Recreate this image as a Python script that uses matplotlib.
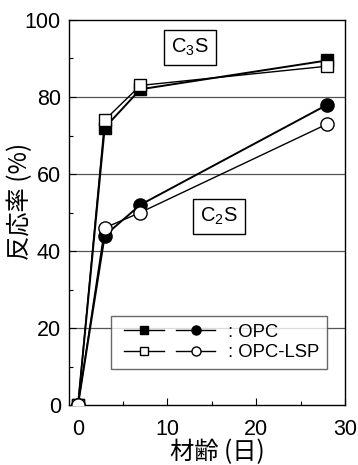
import matplotlib
matplotlib.use('Agg')
import matplotlib.pyplot as plt
from matplotlib.legend_handler import HandlerTuple
from matplotlib.ticker import MultipleLocator

# データ（材齢と反応率）
days = [0, 3, 7, 28]
c3s_opc = [0, 72, 82, 89.5]
c3s_lsp = [0, 74, 83, 88]
c2s_opc = [0, 44, 52, 78]
c2s_lsp = [0, 46, 50, 73]

x_ticks = [0, 10, 20, 30]
y_ticks = [0, 20, 40, 60, 80, 100]

plt.rcParams['font.family'] = ['Liberation Sans', 'Noto Sans CJK JP', 'DejaVu Sans']
plt.rcParams['mathtext.fontset'] = 'custom'
plt.rcParams['mathtext.rm'] = 'Liberation Sans'


class ShiftedTuple(HandlerTuple):
    # 凡例のハンドルを少し右にずらす
    def create_artists(self, legend, orig_handle, xdescent, ydescent,
                       width, height, fontsize, trans):
        shift = 0.32 * fontsize
        return super().create_artists(legend, orig_handle, xdescent - shift,
                                      ydescent, width - shift, height,
                                      fontsize, trans)


fig = plt.figure(figsize=(3.58, 4.65), dpi=100)
ax = fig.add_axes([0.193, 0.129, 0.771, 0.828])

for v in [20, 40, 60, 80]:
    ax.axhline(v, color='#555555', lw=0.9, zorder=1)

ms_sq = 8.5
ms_ci = 9.5
l1, = ax.plot(days, c3s_opc, '-s', color='black', mfc='black', mec='black',
              ms=ms_sq, lw=1.4, zorder=3)
l2, = ax.plot(days, c3s_lsp, '-s', color='black', mfc='white', mec='black',
              ms=ms_sq, lw=1.0, zorder=4)
l3, = ax.plot(days, c2s_opc, '-o', color='black', mfc='black', mec='black',
              ms=ms_ci, lw=1.4, zorder=3)
l4, = ax.plot(days, c2s_lsp, '-o', color='black', mfc='white', mec='black',
              ms=ms_ci, lw=1.0, zorder=4)

ax.set_xlim(-1, 30)
ax.set_ylim(0, 100)
ax.set_xticks(x_ticks)
ax.set_yticks(y_ticks)
ax.xaxis.set_minor_locator(MultipleLocator(5))
ax.yaxis.set_minor_locator(MultipleLocator(10))
ax.tick_params(which='both', direction='in', labelsize=15.5, width=0.8)
ax.tick_params(which='major', length=5)
ax.tick_params(which='minor', length=3)
ax.tick_params(axis='x', pad=10)
ax.tick_params(axis='y', pad=6)
for s in ax.spines.values():
    s.set_linewidth(1.0)

ax.set_xlabel('材齢 (日)', fontsize=17.5, family=['Noto Sans CJK JP'])
ax.set_ylabel('反応率 (%)', fontsize=17.5, family=['Noto Sans CJK JP'])
ax.xaxis.set_label_coords(0.536, -0.088)
ax.yaxis.set_label_coords(-0.13, 0.53)

box = dict(boxstyle='square,pad=0.35', fc='white', ec='black', lw=1.0)
ax.text(12.6, 92.9, 'C$_3$S', fontsize=14.5, ha='center', va='center', bbox=box, zorder=5)
ax.text(15.8, 49, 'C$_2$S', fontsize=14.5, ha='center', va='center', bbox=box, zorder=5)

# 凡例用のハンドル（小さめのマーカー）
h1, = ax.plot([], [], '-s', color='black', mfc='black', ms=5.5, lw=1.0)
h2, = ax.plot([], [], '-o', color='black', mfc='black', ms=6.5, lw=1.0)
h3, = ax.plot([], [], '-s', color='black', mfc='white', ms=5.5, lw=1.0)
h4, = ax.plot([], [], '-o', color='black', mfc='white', ms=6.5, lw=1.0)
leg = ax.legend([(h1, h2), (h3, h4)], [': OPC', ': OPC-LSP'],
                handler_map={tuple: ShiftedTuple(ndivide=None, pad=0.65)},
                loc='lower left', bbox_to_anchor=(0.152, 0.094),
                borderaxespad=0,
                fontsize=13.3, handlelength=5.25, handletextpad=0.7,
                frameon=True, fancybox=False, edgecolor='#444444',
                borderpad=0.4, labelspacing=0.2)
leg.get_frame().set_linewidth(1.0)
leg.set_zorder(6)

fig.savefig('out.png', dpi=100)
